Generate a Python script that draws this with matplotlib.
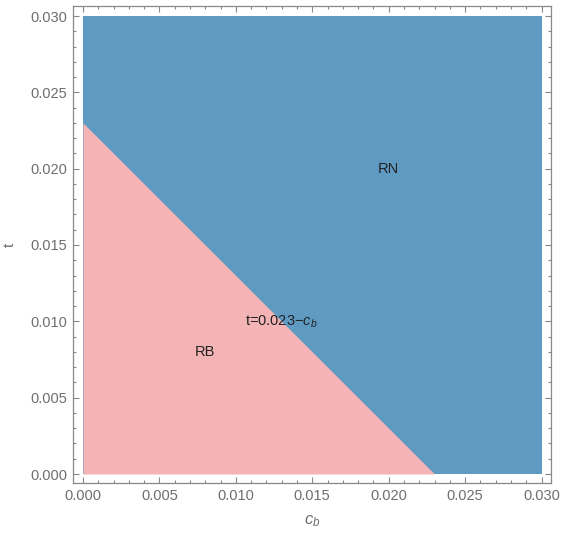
import numpy as np
import matplotlib
matplotlib.use("Agg")
import matplotlib.pyplot as plt
from matplotlib.ticker import MultipleLocator, FormatStrFormatter

# ---- data ----
x_range = [0.0, 0.03]
y_range = [0.0, 0.03]
intercept = 0.023          # boundary: t = 0.023 - c_b
region_labels = ["RN", "RB"]
region_label_pos = [(0.020, 0.020), (0.008, 0.008)]
boundary_label = r"t=0.023$-c_b$"
boundary_label_pos = (0.013, 0.010)
x_ticks = [0.000, 0.005, 0.010, 0.015, 0.020, 0.025, 0.030]
y_ticks = [0.000, 0.005, 0.010, 0.015, 0.020, 0.025, 0.030]

blue = "#5f9ac3"
pink = "#f4b3b5"
gray = "#6e6e6e"

plt.rcParams['font.family'] = ['Liberation Sans', 'DejaVu Sans']
plt.rcParams['mathtext.fontset'] = 'custom'
plt.rcParams['mathtext.it'] = 'Liberation Sans:italic'
plt.rcParams['mathtext.rm'] = 'Liberation Sans'

W, H = 561, 537
fig = plt.figure(figsize=(W / 100, H / 100), dpi=100)
ax = fig.add_axes([73 / W, 1 - 483 / H, (551 - 73) / W, (483 - 6) / H])

xs = np.unique(np.concatenate([np.linspace(x_range[0], x_range[1], 301), [intercept]]))
boundary = np.clip(intercept - xs, y_range[0], y_range[1])
ax.fill_between(xs, y_range[0], y_range[1], color=blue, lw=0)
ax.fill_between(xs, y_range[0], boundary, color=pink, lw=0)

mx = (x_range[1] - x_range[0]) * 10 / 459
my = (y_range[1] - y_range[0]) * 10 / 458
ax.set_xlim(x_range[0] - mx, x_range[1] + (551 - 541.5) / 459 * 0.03)
ax.set_ylim(y_range[0] - 9 / 458 * 0.03, y_range[1] + my)

for lab, (px, py) in zip(region_labels, region_label_pos):
    ax.text(px, py, lab, ha="center", va="center", fontsize=10.5, color="#222222")
ax.text(*boundary_label_pos, boundary_label, ha="center", va="center",
        fontsize=10.5, color="#222222")

ax.set_xticks(x_ticks)
ax.set_yticks(y_ticks)
ax.xaxis.set_major_formatter(FormatStrFormatter("%.3f"))
ax.yaxis.set_major_formatter(FormatStrFormatter("%.3f"))
ax.xaxis.set_minor_locator(MultipleLocator(0.001))
ax.yaxis.set_minor_locator(MultipleLocator(0.001))
ax.tick_params(which="both", direction="in", top=True, right=True,
               color="#888888", labelcolor=gray, labelsize=10.5, width=0.8)
ax.tick_params(which="major", length=4.5, pad=4)
ax.tick_params(which="minor", length=2.5)
for s in ax.spines.values():
    s.set_color("#888888")
    s.set_linewidth(0.9)

ax.set_xlabel(r"$c_b$", color=gray, fontsize=12, labelpad=8)
ax.set_ylabel("t", color=gray, fontsize=11, labelpad=10)

fig.savefig("out.png", dpi=100)
